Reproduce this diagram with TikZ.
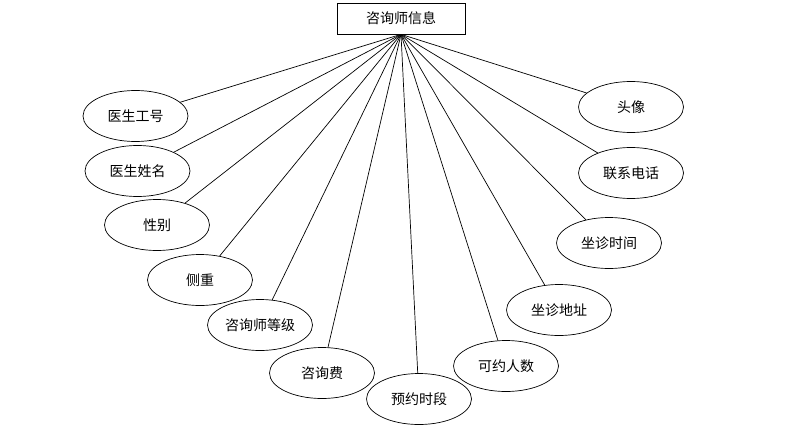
\documentclass[tikz,border=0pt]{standalone}
\usepackage{fontspec}
\setmainfont{Noto Sans CJK SC}
\usetikzlibrary{shapes.geometric}
\begin{document}
\begin{tikzpicture}[x=1pt,y=-1pt, line width=0.7pt,
  every node/.style={font=\fontsize{14pt}{16pt}\selectfont},
  entity/.style={draw, minimum width=128pt, minimum height=31pt, inner sep=0pt},
  attr/.style={draw, ellipse, minimum width=105pt, minimum height=51pt, inner sep=0pt}]
\useasboundingbox (0,0) rectangle (810,428);

% Entity
\node[entity] (info) at (401,18.5) {咨询师信息};

% Left attributes
\node[attr] (gonghao) at (135.5,116) {医生工号};
\node[attr] (xingming) at (137.5,171) {医生姓名};
\node[attr] (xingbie) at (157,225) {性别};
\node[attr] (cezhong) at (200,280) {侧重};
\node[attr] (dengji) at (260,325) {咨询师等级};
\node[attr] (fei) at (322,373) {咨询费};

% Bottom
\node[attr] (shiduan) at (419,399) {预约时段};

% Right attributes
\node[attr] (renshu) at (506,366) {可约人数};
\node[attr] (dizhi) at (559,310) {坐诊地址};
\node[attr] (shijian) at (609,243) {坐诊时间};
\node[attr] (dianhua) at (631,173) {联系电话};
\node[attr] (touxiang) at (631,107) {头像};

% Edges from entity
\draw (info.south) -- (gonghao);
\draw (info.south) -- (xingming);
\draw (info.south) -- (xingbie);
\draw (info.south) -- (cezhong);
\draw (info.south) -- (dengji);
\draw (info.south) -- (fei);
\draw (info.south) -- (shiduan);
\draw (info.south) -- (renshu);
\draw (info.south) -- (dizhi);
\draw (info.south) -- (shijian);
\draw (info.south) -- (dianhua);
\draw (info.south) -- (touxiang);

\end{tikzpicture}
\end{document}
